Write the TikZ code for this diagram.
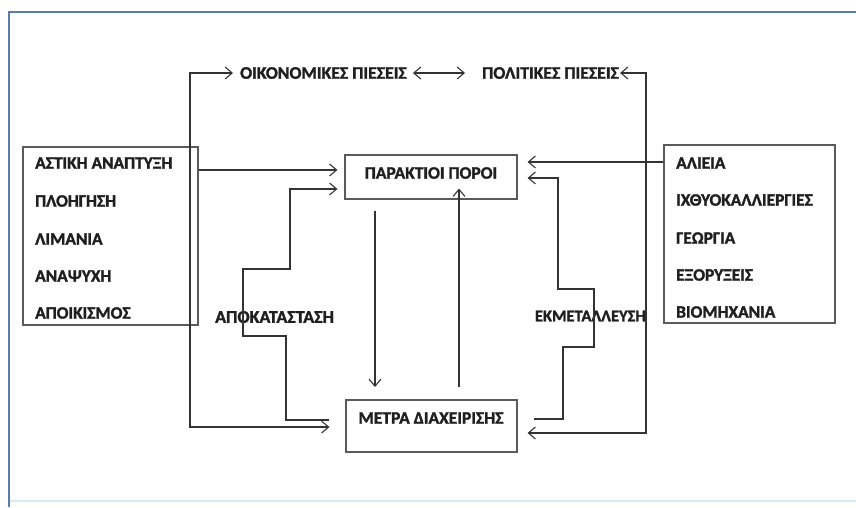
\documentclass[tikz,border=0pt]{standalone}
\usepackage{fontspec}
\setmainfont{Carlito}[BoldFont={Carlito Bold}, BoldFeatures={FakeBold=1.6}]
\usetikzlibrary{arrows.meta}
\definecolor{framec}{HTML}{5B7BAE}
\definecolor{framel}{HTML}{D6ECF3}
\definecolor{linec}{HTML}{333333}
\definecolor{boxc}{HTML}{5A5A5A}
\begin{document}
\begin{tikzpicture}[x=1pt,y=-1pt,
  conn/.style={draw=linec, line width=1.2pt},
  arr/.style={conn, -{Straight Barb[length=7pt,width=12pt,line width=1.1pt]}},
  dblarr/.style={conn, {Straight Barb[length=7pt,width=12pt,line width=1.1pt]}-{Straight Barb[length=7pt,width=12pt,line width=1.1pt]}},
  boxn/.style={draw=boxc, line width=1.2pt, inner sep=0pt},
  item/.style={anchor=west, inner sep=0pt, font=\bfseries\fontsize{17.4}{18}\selectfont, text=black!88},
  toptext/.style={anchor=west, inner sep=0pt, font=\bfseries\fontsize{17.7}{18}\selectfont, text=black!88},
  midtext/.style={inner sep=0pt, font=\bfseries\fontsize{17.5}{18}\selectfont, text=black!88}
]
\useasboundingbox (0,0) rectangle (856,507);
% frame
\draw[framec, line width=2.2pt] (856,12) -- (9,12) -- (9,507);
\draw[framel, line width=2pt] (10,501) -- (856,501);

% boxes
\node[boxn, minimum width=175pt, minimum height=178pt] (lbox) at (110.5,236) {};
\node[boxn, minimum width=171pt, minimum height=178pt] (rbox) at (749.5,234) {};
\node[boxn, minimum width=172pt, minimum height=44pt] (pbox) at (431,177) {};
\node[boxn, minimum width=171pt, minimum height=52pt] (mbox) at (431.5,426) {};
\node[midtext] (ptext) at (431,173) {ΠΑΡΑΚΤΙΟΙ ΠΟΡΟΙ};
\node[midtext] (mtext) at (431,418) {ΜΕΤΡΑ ΔΙΑΧΕΙΡΙΣΗΣ};

% list items
\node[item] (l1) at (35,163) {ΑΣΤΙΚΗ ΑΝΑΠΤΥΞΗ};
\node[item] (l2) at (35,201) {ΠΛΟΗΓΗΣΗ};
\node[item] (l3) at (35,239) {ΛΙΜΑΝΙΑ};
\node[item] (l4) at (35,276) {ΑΝΑΨΥΧΗ};
\node[item] (l5) at (35,313) {ΑΠΟΙΚΙΣΜΟΣ};
\node[item] (r1) at (676,163) {ΑΛΙΕΙΑ};
\node[item] (r2) at (676,200) {ΙΧΘΥΟΚΑΛΛΙΕΡΓΙΕΣ};
\node[item] (r3) at (676,238) {ΓΕΩΡΓΙΑ};
\node[item] (r4) at (676,275) {ΕΞΟΡΥΞΕΙΣ};
\node[item] (r5) at (676,312) {ΒΙΟΜΗΧΑΝΙΑ};

% top texts
\node[toptext] (oik) at (240,73) {ΟΙΚΟΝΟΜΙΚΕΣ ΠΙΕΣΕΙΣ};
\node[toptext] (pol) at (482,73) {ΠΟΛΙΤΙΚΕΣ ΠΙΕΣΕΙΣ};
\node[midtext, anchor=west, font=\bfseries\fontsize{18}{18}\selectfont] (apo) at (215,317) {ΑΠΟΚΑΤΑΣΤΑΣΗ};
\node[midtext, anchor=east, font=\bfseries\fontsize{16.5}{18}\selectfont] (ekm) at (646,316) {ΕΚΜΕΤΑΛΛΕΥΣΗ};

% connectors
\draw[dblarr] ([xshift=6pt]oik.east) -- ([xshift=-17pt]pol.west);
\draw[dblarr] ([xshift=-7pt]oik.west) -- (190,73) -- (190,427) -- ([xshift=-16pt]mbox.west |- 0,427);
\draw[dblarr] ([xshift=1pt]pol.east) -- (646,73) -- (646,433) -- ([xshift=10pt]mbox.east |- 0,433);
\draw[arr] (lbox.east |- 0,170) -- ([xshift=-7pt]pbox.west |- 0,170);
\draw[arr] (rbox.west |- 0,162) -- ([xshift=10pt]pbox.east |- 0,162);
\draw[arr] ([xshift=-16pt]mbox.west |- 0,420) -- (286,420) -- (286,336) -- (243,336) -- (243,269) -- (290,269) -- (290,189) -- ([xshift=-7pt]pbox.west |- 0,189);
\draw[arr] ([xshift=16pt]mbox.east |- 0,419) -- (563,419) -- (563,347) -- (594,347) -- (594,289) -- (558,289) -- (558,178) -- ([xshift=10pt]pbox.east |- 0,178);
\draw[arr] (pbox.south -| 375,0) ++(0,11) -- (375,387);
\draw[arr] (459,387) -- ([yshift=11pt]pbox.south -| 459,0);
\end{tikzpicture}
\end{document}
